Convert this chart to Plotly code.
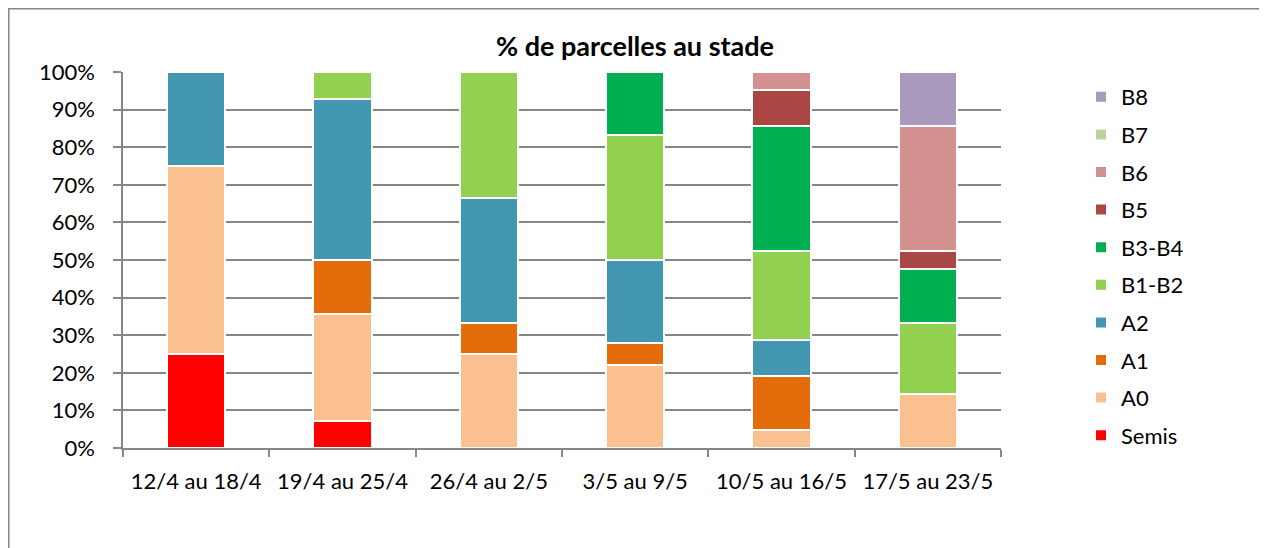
import plotly.graph_objects as go

categories = ["12/4 au 18/4", "19/4 au 25/4", "26/4 au 2/5", "3/5 au 9/5", "10/5 au 16/5", "17/5 au 23/5"]

semis = [25.0, 7.1, 0, 0, 0, 0]
a0 = [50.0, 28.6, 25.0, 22.2, 4.8, 14.3]
a1 = [0, 14.3, 8.3, 5.6, 14.3, 0]
a2 = [25.0, 42.9, 33.3, 22.2, 9.5, 0]
b1_b2 = [0, 7.1, 33.4, 33.3, 23.8, 19.0]
b3_b4 = [0, 0, 0, 16.7, 33.3, 14.3]
b5 = [0, 0, 0, 0, 9.5, 4.8]
b6 = [0, 0, 0, 0, 4.8, 33.3]
b7 = [0, 0, 0, 0, 0, 0]
b8 = [0, 0, 0, 0, 0, 14.3]

series = [
    ("Semis", semis, "#FF0000"),
    ("A0", a0, "#FAC090"),
    ("A1", a1, "#E46C0A"),
    ("A2", a2, "#4397B0"),
    ("B1-B2", b1_b2, "#92D050"),
    ("B3-B4", b3_b4, "#00B050"),
    ("B5", b5, "#AA4745"),
    ("B6", b6, "#D39190"),
    ("B7", b7, "#BBD39A"),
    ("B8", b8, "#A99ABE"),
]

FONT = "Lato"
W, H = 1259, 540          # page has an 8px body margin
L, T = 115, 64
PW, PH = 878, 376

fig = go.Figure()
n = len(series)
for i, (name, vals, color) in enumerate(series):
    fig.add_trace(go.Bar(
        name=name, x=categories, y=vals,
        marker=dict(color=color, line=dict(color="white", width=2)),
        legendgroup=name, legendrank=n - i,
    ))

fig.update_layout(
    barmode="stack",
    bargap=0.6,
    width=W, height=H,
    margin=dict(l=L, r=W - L - PW, t=T, b=H - T - PH, autoexpand=False),
    paper_bgcolor="white", plot_bgcolor="white",
    font=dict(family=FONT, size=22, color="black"),
    title=dict(text="<b>% de parcelles au stade</b>", x=627 / W, xref="container",
               y=1 - 39 / H, yref="container", yanchor="middle",
               xanchor="center", font=dict(size=27)),
    legend=dict(traceorder="grouped", x=(1073 - L) / PW, xanchor="left",
                y=1 - (68 - T) / PH, yanchor="top", font=dict(size=22), tracegroupgap=6,
                bgcolor="rgba(0,0,0,0)", maxheight=500),
    showlegend=True,
)

fig.update_yaxes(range=[0, 100], dtick=10, ticksuffix="%", showgrid=True,
                 gridcolor="#878787", gridwidth=1.5, showline=True, linecolor="#878787",
                 linewidth=1.5, ticks="outside", ticklen=8, tickcolor="#878787",
                 tickwidth=1.5, zeroline=False, ticklabelstandoff=14)
fig.update_xaxes(showline=True, linecolor="#878787", linewidth=1.5, ticks="outside",
                 ticklen=7, tickcolor="#878787", tickwidth=1.5, tickson="boundaries",
                 showgrid=False, ticklabelstandoff=13)

# outer chart frame
fig.add_shape(type="rect", xref="paper", yref="paper",
              x0=(0.8 - L) / PW, x1=(1254 - L) / PW,
              y0=-(620 - T - PH) / PH, y1=1 + (T - 0.8) / PH,
              line=dict(color="#878787", width=1.5), fillcolor="rgba(0,0,0,0)", layer="below")

fig.write_html("out.html")
